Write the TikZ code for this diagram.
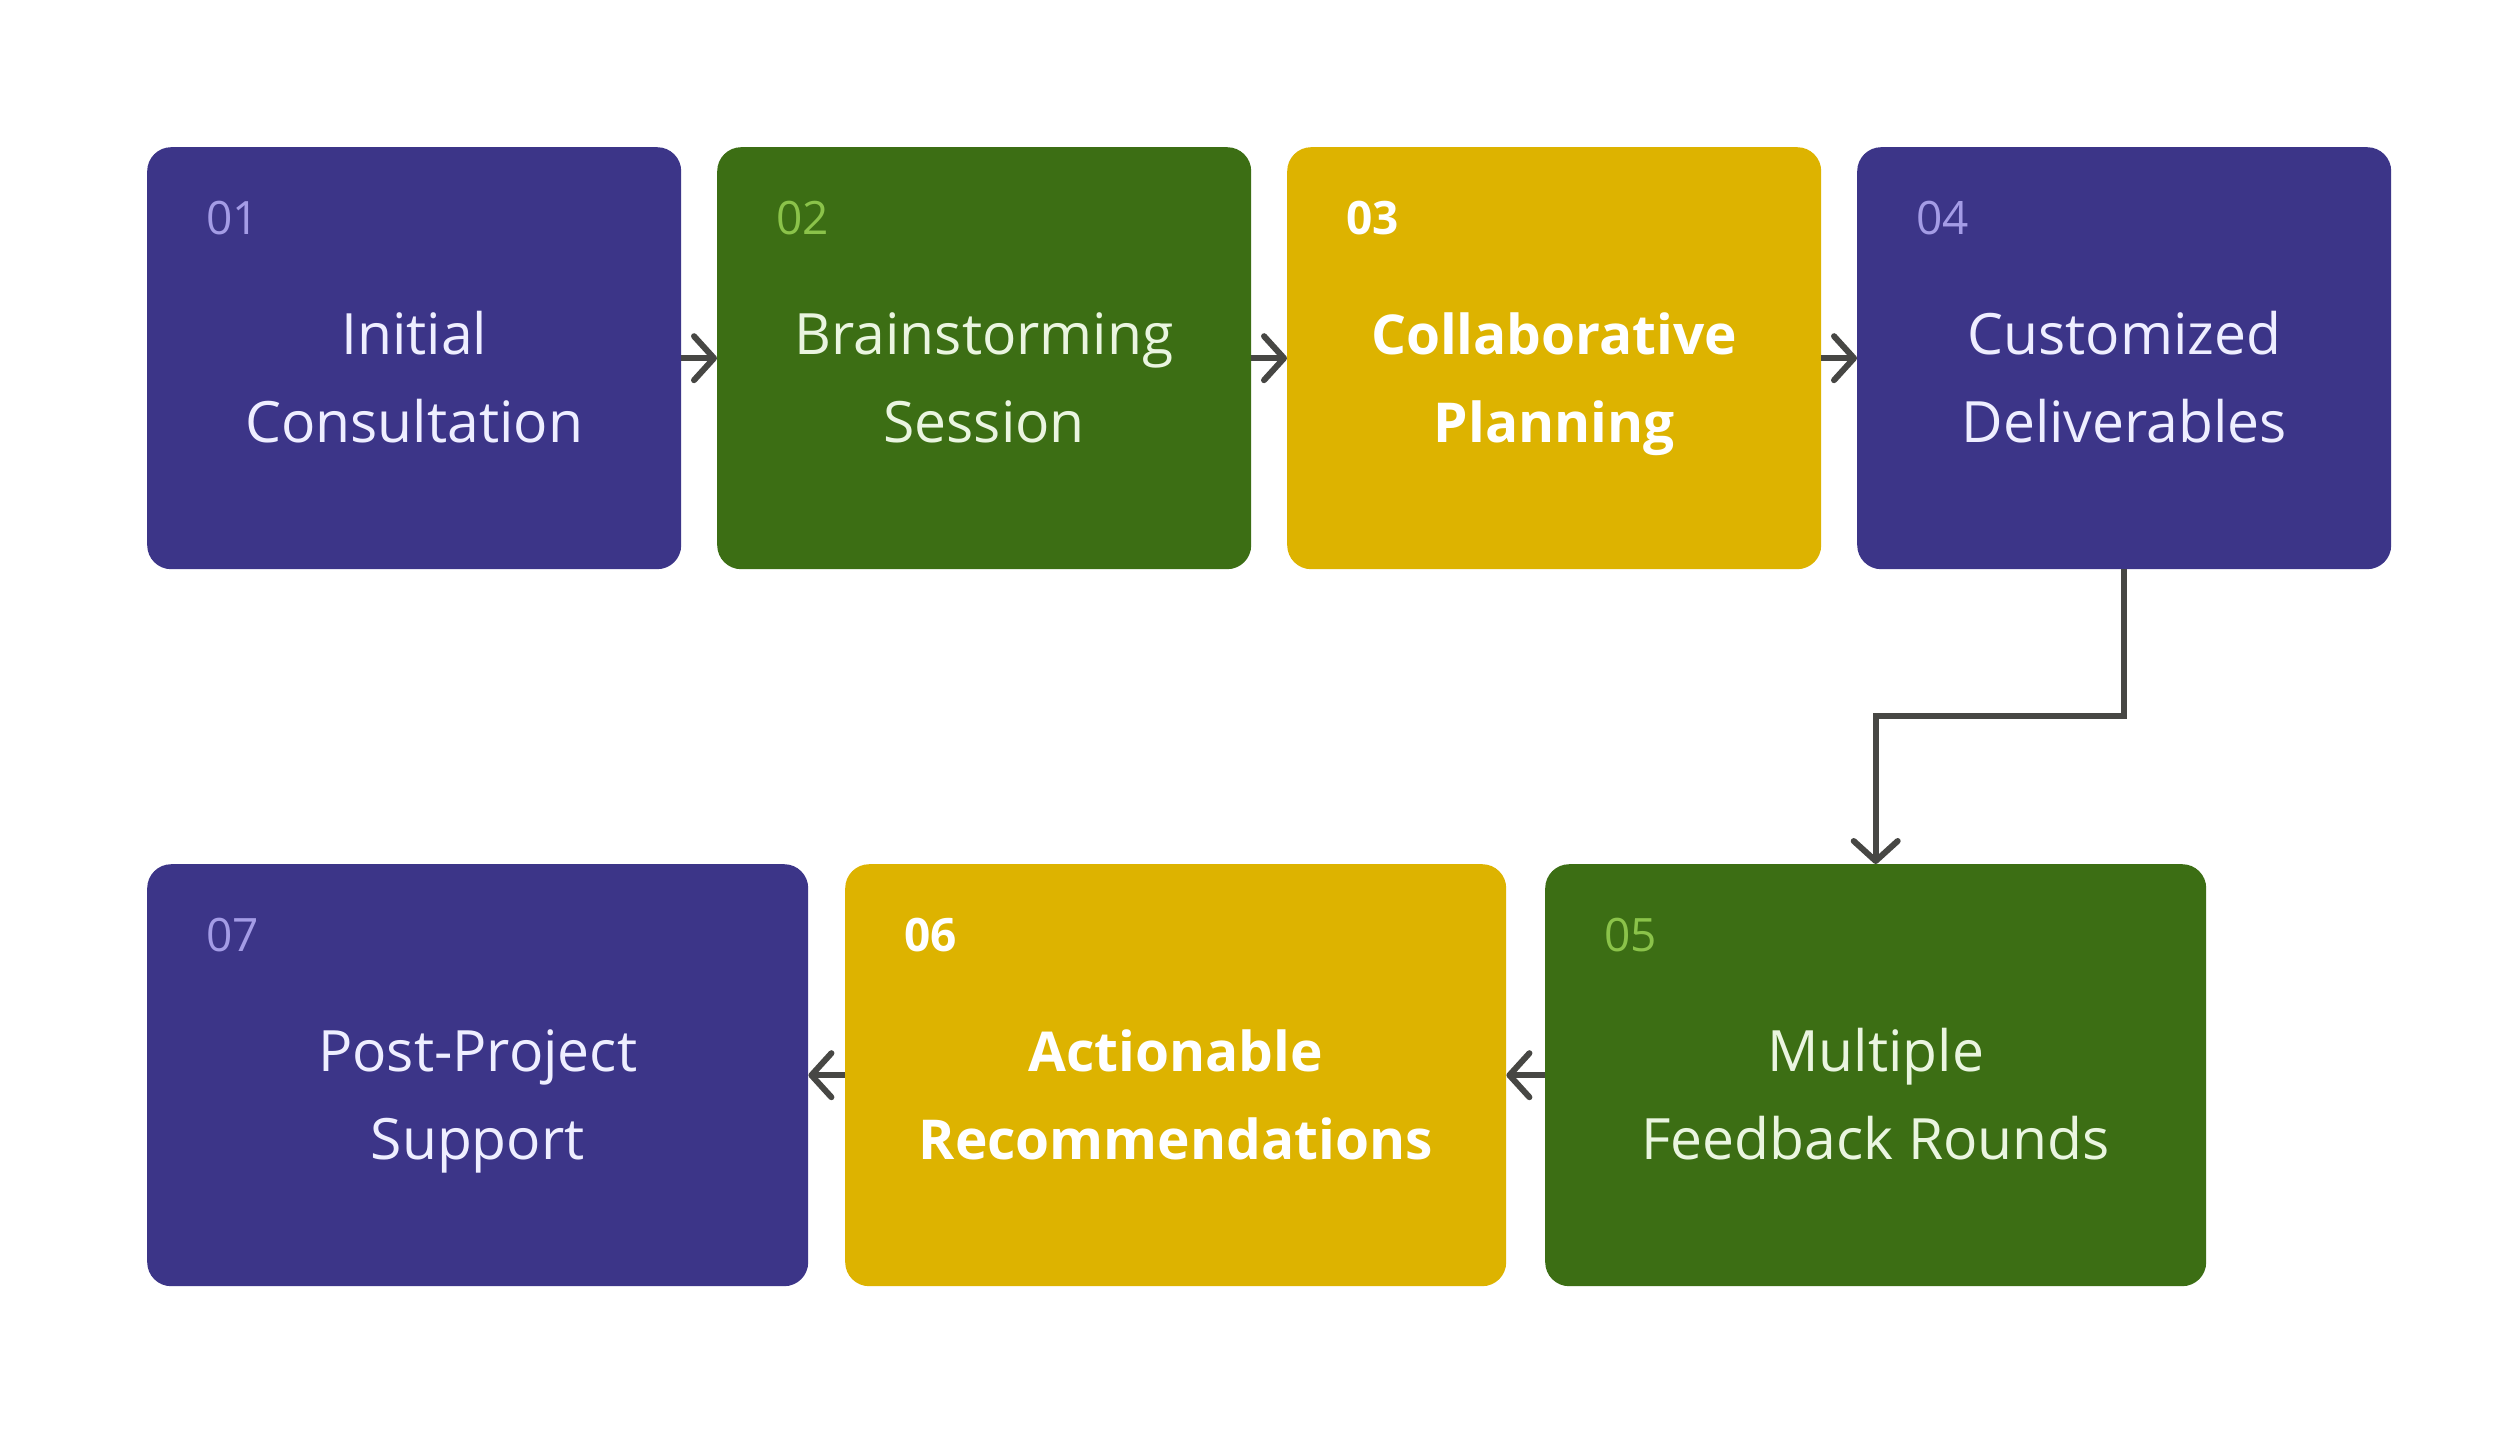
\documentclass[tikz,border=0pt]{standalone}
\usepackage{fontspec}
\setmainfont{Open Sans}
\usetikzlibrary{arrows.meta,calc}
\definecolor{cpurple}{HTML}{3C3588}
\definecolor{cgreen}{HTML}{3C6E14}
\definecolor{cyellow}{HTML}{DDB300}
\definecolor{npurple}{HTML}{A49CE6}
\definecolor{ngreen}{HTML}{8BC34A}
\definecolor{tpurple}{HTML}{EEEEFF}
\definecolor{tgreen}{HTML}{EAF5E0}
\definecolor{carrow}{HTML}{474744}
\tikzset{
  box/.style={rectangle, rounded corners=24pt, anchor=north west, inner sep=0pt, minimum height=422pt},
  wbox/.style={box, minimum width=534pt},
  widebox/.style={box, minimum width=661pt},
  numlbl/.style={anchor=west, inner sep=0pt, font=\fontsize{46}{50}\selectfont},
  boldnum/.style={numlbl, text=white, font=\fontsize{46}{50}\selectfont\bfseries},
  mainlbl/.style={align=center, inner sep=0pt, anchor=base, font=\fontsize{57}{88}\selectfont},
  boldlbl/.style={mainlbl, text=white, font=\fontsize{55}{88}\selectfont\bfseries},
  arr/.style={draw=carrow, line width=6pt, -{Straight Barb[length=20pt,width=44pt,line cap=round,line join=round]}},
}
\begin{document}
\begin{tikzpicture}[x=1pt,y=-1pt]
\useasboundingbox[fill=white] (0,0) rectangle (2500,1434);
% row 1
\node[wbox, fill=cpurple] (b1) at (147,147) {};
\node[wbox, fill=cgreen] (b2) at (717,147) {};
\node[wbox, fill=cyellow] (b3) at (1287,147) {};
\node[wbox, fill=cpurple] (b4) at (1857,147) {};
% row 2
\node[widebox, fill=cgreen] (b5) at (1545,864) {};
\node[widebox, fill=cyellow] (b6) at (845,864) {};
\node[widebox, fill=cpurple] (b7) at (147,864) {};
% numbers
\node[numlbl, text=npurple] (n1) at ($(b1.north west)+(59,71)$) {01};
\node[numlbl, text=ngreen] (n2) at ($(b2.north west)+(59,71)$) {02};
\node[boldnum] (n3) at ($(b3.north west)+(59,71)$) {03};
\node[numlbl, text=npurple] (n4) at ($(b4.north west)+(59,71)$) {04};
\node[numlbl, text=ngreen] (n5) at ($(b5.north west)+(59,71)$) {05};
\node[boldnum] (n6) at ($(b6.north west)+(59,71)$) {06};
\node[numlbl, text=npurple] (n7) at ($(b7.north west)+(59,71)$) {07};
% main texts (baseline of last line placed explicitly)
\node[mainlbl, text=tpurple] (t1) at ($(b1.north)+(0,295)$) {Initial\\Consultation};
\node[mainlbl, text=tgreen] (t2) at ($(b2.north)+(0,295)$) {Brainstorming\\Session};
\node[boldlbl] (t3) at ($(b3.north)+(0,295)$) {Collaborative\\Planning};
\node[mainlbl, text=tpurple] (t4) at ($(b4.north)+(0,295)$) {Customized\\Deliverables};
\node[mainlbl, text=tgreen] (t5) at ($(b5.north)+(0,295)$) {Multiple\\Feedback Rounds};
\node[boldlbl] (t6) at ($(b6.north)+(0,295)$) {Actionable\\Recommendations};
\node[mainlbl, text=tpurple] (t7) at ($(b7.north)+(0,295)$) {Post-Project\\Support};
% connectors
\draw[arr] (b1.east) -- (b2.west);
\draw[arr] (b2.east) -- (b3.west);
\draw[arr] (b3.east) -- (b4.west);
\draw[arr] (b4.south) -- ++(0,147) -| (b5.north);
\draw[arr] (b5.west) -- (b6.east);
\draw[arr] (b6.west) -- (b7.east);
\end{tikzpicture}
\end{document}
